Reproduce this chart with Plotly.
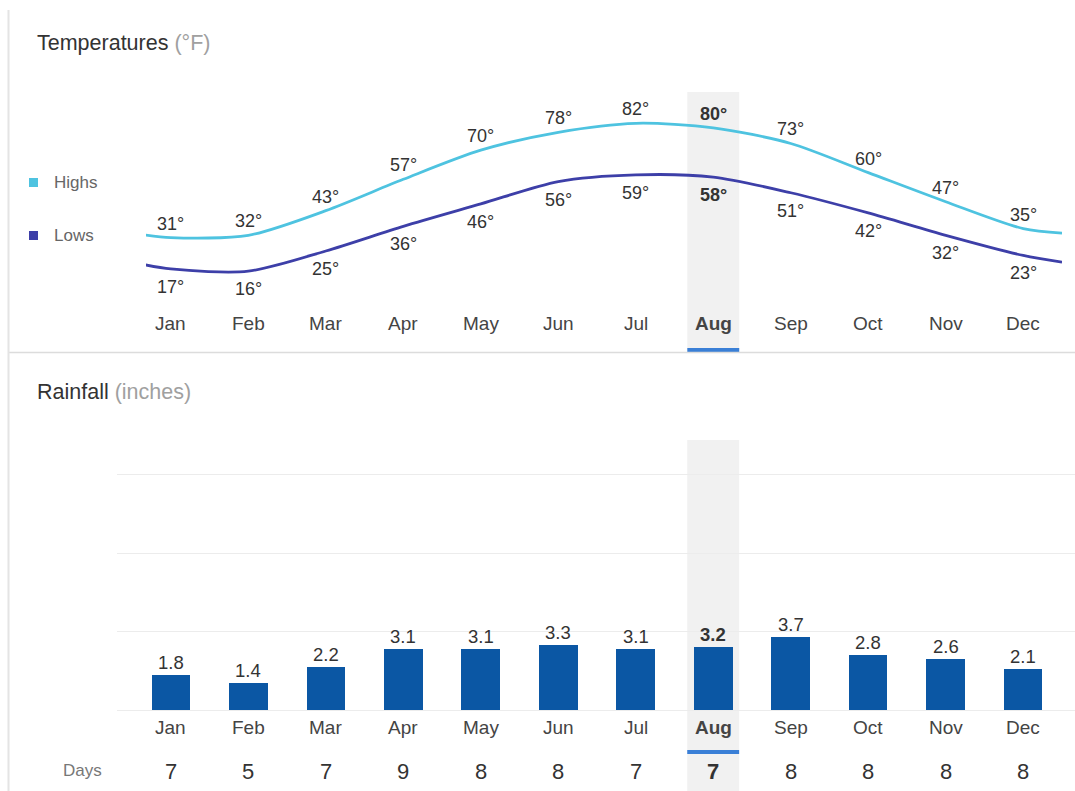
import plotly.graph_objects as go

months = ["Jan", "Feb", "Mar", "Apr", "May", "Jun", "Jul", "Aug", "Sep", "Oct", "Nov", "Dec"]
highs = [31, 32, 43, 57, 70, 78, 82, 80, 73, 60, 47, 35]
lows = [17, 16, 25, 36, 46, 56, 59, 58, 51, 42, 32, 23]
rain = [1.8, 1.4, 2.2, 3.1, 3.1, 3.3, 3.1, 3.2, 3.7, 2.8, 2.6, 2.1]
days = [7, 5, 7, 9, 8, 8, 7, 7, 8, 8, 8, 8]
current = "Aug"

W, H = 1075, 791
FONT = "Arial, Liberation Sans, sans-serif"
HI_COL = "#4ec3e0"
LO_COL = "#3d3fa8"
BAR_COL = "#0b57a4"
ACCENT = "#3a7fd6"

def px(x):
    return x / W

def py(y):
    return 1 - y / H

n = len(months)
xs = list(range(n))
cur = months.index(current)

# cyclic extension so the curves run to the plot edges (wrap Dec -> Jan)
ext_x = [-0.5] + xs + [n - 0.5]
hi_edge = (highs[-1] + highs[0]) / 2
lo_edge = (lows[-1] + lows[0]) / 2
hi_ext = [hi_edge] + highs + [hi_edge]
lo_ext = [lo_edge] + lows + [lo_edge]

fig = go.Figure()
fig.add_trace(go.Scatter(x=ext_x, y=hi_ext, mode="lines", line=dict(color=HI_COL, width=2.8, shape="spline", smoothing=0.8),
                         xaxis="x", yaxis="y", hoverinfo="skip", showlegend=False))
fig.add_trace(go.Scatter(x=ext_x, y=lo_ext, mode="lines", line=dict(color=LO_COL, width=2.8, shape="spline", smoothing=0.8),
                         xaxis="x", yaxis="y", hoverinfo="skip", showlegend=False))
fig.add_trace(go.Bar(x=xs, y=rain, width=0.5, marker=dict(color=BAR_COL, line=dict(width=0)),
                     xaxis="x2", yaxis="y2", hoverinfo="skip", showlegend=False))

ann = []
shapes = []

def txt(text, x, y, xref="paper", yref="paper", size=16, color="#333", xanchor="center", yanchor="middle", yshift=0, bold=False):
    if bold:
        text = "<b>" + text + "</b>"
    ann.append(dict(text=text, x=x, y=y, xref=xref, yref=yref, showarrow=False, xanchor=xanchor, yanchor=yanchor,
                    yshift=yshift, font=dict(family=FONT, size=size, color=color)))

# titles
txt("Temperatures <span style='color:#a0a0a0'>(°F)</span>", px(35), py(43), size=21.5, color="#333", xanchor="left")
txt("Rainfall <span style='color:#a0a0a0'>(inches)</span>", px(35), py(392), size=21.5, color="#333", xanchor="left")

# legend
shapes.append(dict(type="rect", xref="paper", yref="paper", x0=px(29), x1=px(38), y0=py(187), y1=py(178), fillcolor=HI_COL, line=dict(width=0)))
shapes.append(dict(type="rect", xref="paper", yref="paper", x0=px(29), x1=px(38), y0=py(240), y1=py(231), fillcolor=LO_COL, line=dict(width=0)))
txt("Highs", px(52), py(183), size=17, color="#666", xanchor="left")
txt("Lows", px(52), py(236), size=17, color="#666", xanchor="left")

for i, m in enumerate(months):
    b = (i == cur)
    txt(f"{highs[i]}°", i, highs[i], xref="x", yref="y", size=18, yshift=14, bold=b)
    txt(f"{lows[i]}°", i, lows[i], xref="x", yref="y", size=18, yshift=-18, bold=b)
    txt(m, i, py(323), xref="x", size=19, color="#444", bold=b)
    txt(f"{rain[i]}", i, rain[i], xref="x2", yref="y2", size=18.5, color="#333", yanchor="bottom", yshift=0, bold=b)
    txt(m, i, py(727), xref="x2", size=19, color="#444", bold=b)
    txt(f"{days[i]}", i, py(771), xref="x2", size=22, color="#333", bold=b)

txt("Days", px(83), py(770), size=17, color="#777")

# current month bands and underlines
shapes.append(dict(type="rect", xref="x", yref="paper", x0=cur - 0.335, x1=cur + 0.335, y0=py(350), y1=py(92),
                   fillcolor="#f1f1f1", line=dict(width=0), layer="below"))
shapes.append(dict(type="rect", xref="x2", yref="paper", x0=cur - 0.335, x1=cur + 0.335, y0=py(791), y1=py(440),
                   fillcolor="#f1f1f1", line=dict(width=0), layer="below"))
shapes.append(dict(type="rect", xref="x", yref="paper", x0=cur - 0.335, x1=cur + 0.335, y0=py(352), y1=py(348),
                   fillcolor=ACCENT, line=dict(width=0)))
shapes.append(dict(type="rect", xref="x2", yref="paper", x0=cur - 0.335, x1=cur + 0.335, y0=py(754), y1=py(750),
                   fillcolor=ACCENT, line=dict(width=0)))

# separators
shapes.append(dict(type="line", xref="paper", yref="paper", x0=px(8), x1=1, y0=py(352.5), y1=py(352.5), line=dict(color="#dcdcdc", width=1.5)))
shapes.append(dict(type="line", xref="paper", yref="paper", x0=px(8.5), x1=px(8.5), y0=py(10), y1=0, line=dict(color="#e4e4e4", width=2)))

# axes geometry: temp 0deg at y=307, 2.24 px/deg; rain 0 at y=710, 19.6 px/inch
t_top, t_bot = 92, 350
t_range = [(307 - t_bot) / 2.24, (307 - t_top) / 2.24]
r_top, r_bot = 440, 791
r_range = [(710 - r_bot) / 19.6, (710 - r_top) / 19.6]

fig.update_layout(
    width=W, height=H,
    margin=dict(l=0, r=0, t=0, b=0),
    paper_bgcolor="white", plot_bgcolor="rgba(0,0,0,0)",
    font=dict(family=FONT),
    bargap=0,
    xaxis=dict(domain=[px(146), px(1062)], range=[-0.32, 11.5], visible=False, fixedrange=True),
    yaxis=dict(domain=[py(t_bot), py(t_top)], range=t_range, visible=False, fixedrange=True),
    xaxis2=dict(domain=[px(117), 1], range=[-(171 - 117) / 77.5, 11 + (1075 - 1023) / 77.5], visible=False, fixedrange=True, anchor="y2"),
    yaxis2=dict(domain=[py(r_bot), py(r_top)], range=r_range, showgrid=True, gridcolor="#ececec", gridwidth=1,
                tickvals=[0, 4, 8, 12], showticklabels=False, zeroline=False, showline=False, ticks="",
                fixedrange=True, anchor="x2"),
    annotations=ann,
    shapes=shapes,
)

fig.write_html("out.html")
